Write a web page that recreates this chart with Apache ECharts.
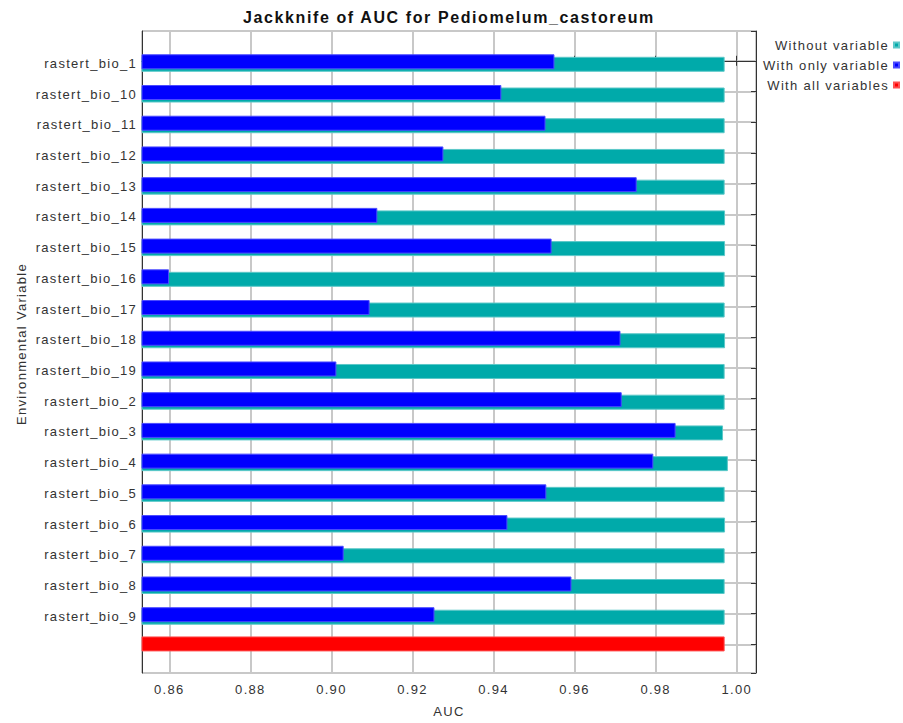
<!DOCTYPE html>
<html>
<head>
<meta charset="utf-8">
<script src="https://cdn.jsdelivr.net/npm/echarts@6/dist/echarts.min.js"></script>
<style>
  html, body { margin: 0; padding: 0; background: #fff; }
  #chart { width: 903px; height: 723px; }
  #chart text { letter-spacing: 0.1em; }
</style>
</head>
<body>
<div id="chart"></div>
<script>
// ---- data ----
const categories = [
  'rastert_bio_1', 'rastert_bio_10', 'rastert_bio_11', 'rastert_bio_12', 'rastert_bio_13',
  'rastert_bio_14', 'rastert_bio_15', 'rastert_bio_16', 'rastert_bio_17', 'rastert_bio_18',
  'rastert_bio_19', 'rastert_bio_2', 'rastert_bio_3', 'rastert_bio_4', 'rastert_bio_5',
  'rastert_bio_6', 'rastert_bio_7', 'rastert_bio_8', 'rastert_bio_9'
];
const withoutVariable = [
  0.9969, 0.9969, 0.9969, 0.9969, 0.9969,
  0.9970, 0.9970, 0.9969, 0.9969, 0.9970,
  0.9969, 0.9969, 0.9965, 0.9977, 0.9969,
  0.9970, 0.9969, 0.9969, 0.9969
];
const withOnlyVariable = [
  0.9549, 0.9418, 0.9527, 0.9275, 0.9752,
  0.9112, 0.9542, 0.8598, 0.9093, 0.9712,
  0.9011, 0.9715, 0.9848, 0.9793, 0.9529,
  0.9433, 0.9029, 0.9591, 0.9253
];
const withAllVariables = [0.9969];
const seriesNames = ['Without variable', 'With only variable', 'With all variables'];

const X_MIN = 0.85326, X_MAX = 1.00476;
const Y_MIN = -0.97, Y_MAX = 19.93;
const FONT = '"Liberation Sans", Arial, sans-serif';
const GRID_COLOR = 'rgb(200,200,200)';

function barRenderer(offset, height) {
  return function (params, api) {
    const idx = api.value(1);
    const p0 = api.coord([X_MIN, idx]);
    const p1 = api.coord([api.value(0), idx]);
    return {
      type: 'rect',
      shape: { x: p0[0], y: p0[1] + offset - height / 2, width: p1[0] - p0[0], height: height },
      style: api.style()
    };
  };
}

const chart = echarts.init(document.getElementById('chart'), null, { renderer: 'svg' });

function isRow(v) {
  return Math.abs(v - Math.round(v)) < 1e-6 && Math.round(v) >= 0 && Math.round(v) < categories.length;
}

const option = {
  animation: false,
  backgroundColor: '#ffffff',
  title: {
    text: 'Jackknife of AUC for Pediomelum_castoreum',
    left: 444, top: 4, textAlign: 'center',
    textStyle: { fontFamily: FONT, fontSize: 16, fontWeight: 'bold', color: '#111' }
  },
  legend: {
    orient: 'vertical', right: 3, top: 38, align: 'right', padding: 0,
    icon: 'rect', itemWidth: 5, itemHeight: 5, itemGap: 6,
    textStyle: { fontFamily: FONT, fontSize: 13, color: '#333', lineHeight: 14 },
    data: seriesNames
  },
  grid: { left: 142, right: 147, top: 31, bottom: 47, containLabel: false },
  xAxis: [
    {
      type: 'value', position: 'bottom', min: X_MIN, max: X_MAX, splitNumber: 7,
      name: 'AUC', nameLocation: 'middle', nameGap: 32,
      nameTextStyle: { fontFamily: FONT, fontSize: 13, color: '#333' },
      axisLine: { show: true, lineStyle: { color: '#333', width: 1 } },
      axisTick: { show: true, inside: true, length: 5, lineStyle: { color: '#333' } },
      axisLabel: {
        margin: 10, fontFamily: FONT, fontSize: 13, color: '#333',
        showMinLabel: false, showMaxLabel: false,
        formatter: function (v) {
          const k = v / 0.02;
          return Math.abs(k - Math.round(k)) < 1e-6 ? v.toFixed(2) : '';
        }
      },
      splitLine: { show: true, lineStyle: { color: GRID_COLOR, width: 2, opacity: 1 } }
    },
    {
      type: 'value', position: 'top', min: X_MIN, max: X_MAX, splitNumber: 7,
      axisLine: { show: true, lineStyle: { color: '#333', width: 1 } },
      axisTick: { show: true, inside: true, length: 5, lineStyle: { color: '#333' } },
      axisLabel: { show: false },
      splitLine: { show: false }
    }
  ],
  yAxis: [
    {
      type: 'value', position: 'left', inverse: true, min: Y_MIN, max: Y_MAX, splitNumber: 21,
      axisLine: { show: true, lineStyle: { color: '#333', width: 1 } },
      axisTick: { show: false },
      axisLabel: {
        margin: 5, fontFamily: FONT, fontSize: 13, color: '#333',
        verticalAlign: 'top', lineHeight: 5,
        showMinLabel: false, showMaxLabel: false,
        formatter: function (v) { return isRow(v) ? categories[Math.round(v)] : ''; }
      },
      splitLine: { show: true, lineStyle: { color: GRID_COLOR, width: 2, opacity: 1 } }
    },
    {
      type: 'value', position: 'right', inverse: true, min: Y_MIN, max: Y_MAX, splitNumber: 21,
      axisLine: { show: true, lineStyle: { color: '#333', width: 1 } },
      axisTick: { show: true, inside: true, length: 5, lineStyle: { color: '#333' } },
      axisLabel: { show: false },
      splitLine: { show: false }
    }
  ],
  graphic: [{
    type: 'text', x: 21, y: 344, rotation: Math.PI / 2,
    style: {
      text: 'Environmental Variable', font: '13px ' + FONT, fill: '#333',
      textAlign: 'center', textVerticalAlign: 'middle'
    }
  }],
  series: [
    {
      name: seriesNames[0], type: 'custom', xAxisIndex: 0, yAxisIndex: 0,
      renderItem: barRenderer(3.5, 14),
      itemStyle: { color: '#00aaaa', borderColor: '#5cc8c8', borderWidth: 1 },
      encode: { x: 0, y: 1 },
      data: withoutVariable.map(function (v, i) { return [v, i]; }),
      z: 2
    },
    {
      name: seriesNames[1], type: 'custom', xAxisIndex: 0, yAxisIndex: 0,
      renderItem: barRenderer(1, 14),
      itemStyle: { color: '#0000ff', borderColor: '#4a4aff', borderWidth: 1 },
      encode: { x: 0, y: 1 },
      data: withOnlyVariable.map(function (v, i) { return [v, i]; }),
      z: 3
    },
    {
      name: seriesNames[2], type: 'custom', xAxisIndex: 0, yAxisIndex: 0,
      renderItem: barRenderer(-0.5, 14),
      itemStyle: { color: '#ff0000', borderColor: '#ff5050', borderWidth: 1 },
      encode: { x: 0, y: 1 },
      data: withAllVariables.map(function (v) { return [v, categories.length]; }),
      z: 3
    }
  ]
};
chart.setOption(option);
</script>
</body>
</html>
